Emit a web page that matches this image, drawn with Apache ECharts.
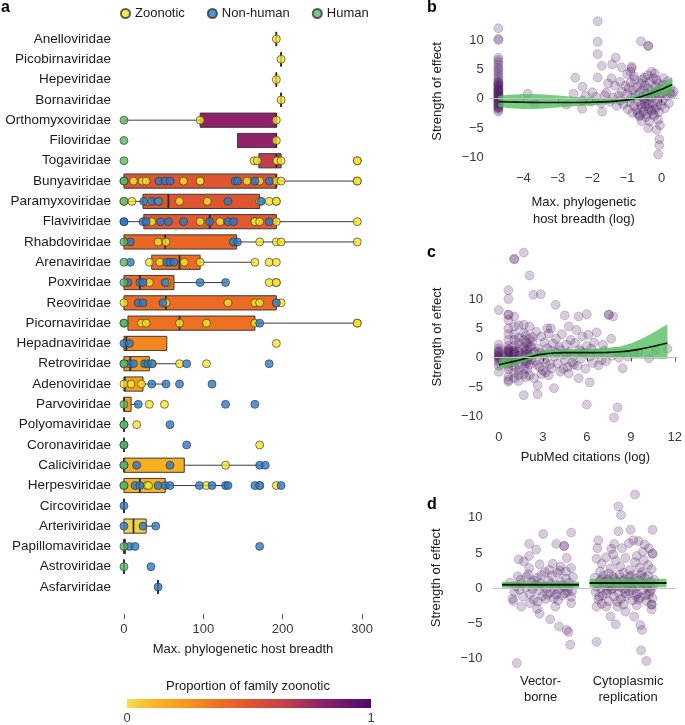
<!DOCTYPE html>
<html>
<head>
<meta charset="utf-8">
<script src="https://cdn.jsdelivr.net/npm/echarts@6/dist/echarts.min.js"></script>
<style>html,body{margin:0;background:#fff}#main{width:685px;height:725px}</style>
</head>
<body>
<div id="main"></div>
<script>
var FONT = 'Liberation Sans, Arial, sans-serif';

// ---- panel a : families, box stats [lo, q1, median, q3, hi], zoonotic share
var families = ['Anelloviridae','Picobirnaviridae','Hepeviridae','Bornaviridae','Orthomyxoviridae','Filoviridae',
  'Togaviridae','Bunyaviridae','Paramyxoviridae','Flaviviridae','Rhabdoviridae','Arenaviridae','Poxviridae',
  'Reoviridae','Picornaviridae','Hepadnaviridae','Retroviridae','Adenoviridae','Parvoviridae','Polyomaviridae',
  'Coronaviridae','Caliciviridae','Herpesviridae','Circoviridae','Arteriviridae','Papillomaviridae',
  'Astroviridae','Asfarviridae'];
var boxStats = [
  [192,192,192,192,192],[198,198,198,198,198],[192,192,192,192,192],[198,198,198,198,198],
  [0,96,192,192,192],[143,143,192,192,192],[170,170,192,198,198],[0,0,192,192,294],
  [0,24,56,171,171],[0,25,108,192,294],[0,0,52,142,294],[35,35,70,96,165],
  [0,0,20,63,128],[0,0,53,192,192],[0,5,70,165,294],[0,0,3,54,54],
  [0,0,8,32,70],[0,0,1,24,53],[0,0,0,9,18],[0,0,0,0,0],
  [0,0,0,0,0],[0,0,0,76,171],[0,0,20,52,131],[0,0,0,0,0],
  [0,0,12,28,40],[0,0,0,2,2],[0,0,0,0,0],[43,43,43,43,43]
];
var zoonoticShare = [1,1,1,1,0.8,0.8,0.65,0.5,0.5,0.48,0.42,0.4,0.4,0.4,0.38,0.3,0.22,0.2,0.2,0.15,
  0.15,0.14,0.12,0,0.03,0,0,0];

// host breadth of each virus, per family
var zoonoticPts = [
  ['Anelloviridae',[192]],['Picobirnaviridae',[198]],['Hepeviridae',[192]],['Bornaviridae',[198]],
  ['Orthomyxoviridae',[96,192]],['Filoviridae',[192]],['Togaviridae',[164,168,192,193,198,294,294]],
  ['Bunyaviridae',[12,23,28,75,96,96,155,171,192,198,294,294]],
  ['Paramyxoviridae',[0,10,30,44,70,105,171,183,192,192]],
  ['Flaviviridae',[35,96,121,165,165,171,192,294]],
  ['Rhabdoviridae',[43,53,138,171,192,198,294]],
  ['Arenaviridae',[32,45,76,96,165,183,192]],
  ['Poxviridae',[32,54,183,192,192]],
  ['Reoviridae',[0,53,131,165,171,192,198]],
  ['Picornaviridae',[22,28,70,104,165,294,294]],
  ['Hepadnaviridae',[192]],['Retroviridae',[36,70,104]],['Adenoviridae',[0,9,22]],
  ['Parvoviridae',[32,51]],['Polyomaviridae',[16]],['Coronaviridae',[171]],['Caliciviridae',[128]],
  ['Herpesviridae',[29,31,104,171,192]]
];
var nonHumanPts = [
  ['Bunyaviridae',[44,52,58,140,143,165,183]],
  ['Paramyxoviridae',[25,35,43,131,173]],
  ['Flaviviridae',[0,0,24,28,46,56,75,108,131,138,183]],
  ['Rhabdoviridae',[8,138,143]],['Arenaviridae',[8,54,58,63]],
  ['Poxviridae',[5,20,24,52,96,128]],['Reoviridae',[18,24,49,192]],['Picornaviridae',[171]],
  ['Hepadnaviridae',[0,7]],['Retroviridae',[7,12,26,30,35,79,183]],['Adenoviridae',[35,53,70,111]],
  ['Parvoviridae',[18,128,165]],['Polyomaviridae',[58]],['Coronaviridae',[0,79]],
  ['Caliciviridae',[0,16,58,171,178]],
  ['Herpesviridae',[14,20,43,52,58,95,111,128,131,165,171,198]],
  ['Circoviridae',[0]],['Arteriviridae',[0,24,40]],['Papillomaviridae',[7,14,171]],
  ['Astroviridae',[34]],['Asfarviridae',[43]]
];
var humanPts = [
  ['Orthomyxoviridae',[0]],['Filoviridae',[0]],['Togaviridae',[0]],['Bunyaviridae',[0,0]],
  ['Paramyxoviridae',[0]],['Rhabdoviridae',[0]],['Arenaviridae',[0]],['Poxviridae',[0]],
  ['Picornaviridae',[0,0]],['Retroviridae',[0,0]],['Parvoviridae',[0]],['Polyomaviridae',[0,0]],
  ['Coronaviridae',[0]],['Caliciviridae',[0]],['Herpesviridae',[0,0]],['Papillomaviridae',[0]],
  ['Astroviridae',[0]]
];
var ticksA = [0, 100, 200, 300];

// ---- panel b : strength of effect vs max. phylogenetic host breadth (log)
var breadthPts = [
  [-4.72,12],[-4.72,10.2],[-4.72,10],[-4.72,7],[-4.72,6.6],[-4.72,6.2],[-4.72,5.8],[-4.72,5.3],[-4.72,5],
  [-4.72,4.6],[-4.72,4.2],[-4.72,3.8],[-4.72,3.4],[-4.72,3],[-4.72,2.8],[-4.72,2.5],[-4.72,2.2],[-4.72,2],
  [-4.72,1.8],[-4.72,1.6],[-4.72,1.4],[-4.72,1.2],[-4.72,1],[-4.72,0.8],[-4.72,0.6],[-4.72,0.4],[-4.72,0.2],
  [-4.72,0],[-4.72,-0.2],[-4.72,-0.4],[-4.72,-0.6],[-4.72,-0.8],[-4.72,-1],[-4.72,-1.2],[-4.72,-1.4],
  [-4.72,-1.6],[-4.72,-1.9],[-4.72,-2.2],[-4.72,2.6],[-4.72,1.5],[-4.72,0.5],[-4.72,-0.5],[-4.72,-1.5],
  [-4.72,2.3],[-4.72,1.1],[-4.72,0.1],
  [-3.87,0.85],[-3.66,-0.8],[-2.5,3.6],[-2.55,0.85],[-2.29,2.05],[-2.75,-1.0],[-2.3,-0.3],[-2.3,-1.7],
  [-1.85,13.2],[-1.85,9.7],[-1.85,7.6],[-1.73,5.6],[-1.85,3.6],[-2.0,1.1],[-2.05,-0.5],[-1.72,-2.2],
  [-1.43,5.85],[-1.33,7.0],[-1.45,3.5],[-1.16,5.35],[-1.2,2.9],[-0.87,5.45],[-0.87,5.2],[-0.9,4.6],
  [-0.6,9.8],[-0.39,9.0],[-0.39,9.0],[-0.58,-3.8],[-0.39,-5.0],[-0.15,-5.3],[-0.1,-3.6],[-0.07,-6.9],
  [-0.07,-7.9],[-0.1,-9.5],[-0.35,-3.9],[0.24,0.85],[-0.29,4.6],[-0.15,3.2],[-0.4,4.0],[-1.6,1.0],
  [-1.5,-0.5],[-1.4,0.2],[-1.35,2.2],[-1.3,-1.2],[-1.55,2.6],[-1.9,0.3],[-1.75,-0.8],[-1.65,0.6],
  [-2.2,0.5],[-1.0,4.2],[-0.8,3.8],[-0.5,3.6],[-0.2,4.3],[0.05,3.5],[-0.05,-4.5],
  [-1.25,0.5],[-1.2,-0.3],[-1.15,1.2],[-1.1,-1.0],[-1.05,2.2],[-1.0,0.8],[-0.98,-1.8],[-0.95,1.8],
  [-0.92,-0.6],[-0.9,2.8],[-0.88,0.2],[-0.85,-2.4],[-0.82,1.5],[-0.8,-1.2],[-0.78,3.2],[-0.75,0.6],
  [-0.72,-1.9],[-0.7,2.0],[-0.68,-0.4],[-0.65,1.0],[-0.63,-2.8],[-0.6,2.6],[-0.58,-1.5],[-0.56,0.3],
  [-0.54,1.6],[-0.52,-2.2],[-0.5,-0.8],[-0.48,2.3],[-0.46,-1.3],[-0.44,0.9],[-0.42,-2.6],[-0.4,1.8],
  [-0.38,-0.2],[-0.36,-1.7],[-0.34,2.9],[-0.32,0.4],[-0.3,-2.0],[-0.28,1.3],[-0.26,-1.0],[-0.24,3.5],
  [-0.22,-2.9],[-0.2,0.7],[-0.18,2.1],[-0.16,-1.4],[-0.14,1.1],[-0.12,-0.5],[-0.1,2.6],[-0.08,-2.3],
  [-0.06,0.2],[-0.04,1.7],[-0.02,-1.1],[0.0,0.9],[0.03,-0.3],[0.06,2.4],[0.09,-1.6],[0.12,1.3],
  [0.15,0.5],[0.18,3.0],[0.21,-0.8],[0.25,1.8],[0.3,0.8],[0.35,1.2],[-0.6,-1.0],[-0.5,0.0],
  [-0.7,-2.5],[-0.4,-0.9],[-0.3,0.1],[-0.2,-1.8],[-0.55,3.3],[-0.65,-3.0],[-0.45,-3.1],[-0.25,-2.6]
];
var fitBx  = [-4.72,-4.4,-4,-3.5,-3,-2.5,-2,-1.5,-1.25,-1,-0.8,-0.6,-0.45,-0.3,-0.15,0,0.15,0.3];
var fitBy  = [-0.5,-0.55,-0.6,-0.65,-0.65,-0.65,-0.6,-0.5,-0.38,-0.2,0.02,0.35,0.62,0.95,1.27,1.6,2.0,2.4];
var fitBlo = [-1.35,-1.6,-1.75,-1.7,-1.5,-1.3,-1.15,-0.85,-0.72,-0.6,-0.35,-0.1,0.1,0.3,0.45,0.6,0.75,0.9];
var fitBhi = [0.45,0.7,0.8,0.75,0.55,0.3,0.15,0.1,0.12,0.2,0.5,0.9,1.25,1.6,2.05,2.5,3.05,3.6];
var ticksB = [-4, -3, -2, -1, 0];

// ---- panel c : strength of effect vs PubMed citations (log)
var citationPts = [
  [0,2.2],[0,1.6],[0,1.2],[0,0.9],[0,0.6],[0,0.3],[0,0.1],[0,-0.2],[0,-0.5],[0,-0.9],[0,-1.4],[0,-2.4],
  [0,8.1],[0,1.0],[0,0.4],[0,0.0],
  [0.65,11.5],[0.65,10.0],[0.65,7.3],[0.65,7.3],[0.65,6.4],[0.65,5.0],[0.65,4.0],[0.65,3.0],[0.65,2.0],
  [0.65,1.5],[0.65,1.2],[0.65,1.0],[0.65,0.8],[0.65,0.5],[0.65,0.3],[0.65,0],[0.65,-0.3],[0.65,-0.6],
  [0.65,-1.0],[0.65,-1.5],[0.65,-2.0],[0.65,-3.2],[0.65,-4.1],[0.65,-3.8],[0.65,0.9],[0.65,1.3],
  [1.05,16.8],[1.05,16.8],[1.05,7.0],[1.05,5.3],[1.05,4.0],[1.05,3.0],[1.05,2.0],[1.05,1.2],[1.05,1.0],
  [1.05,0.6],[1.05,0.2],[1.05,-0.3],[1.05,-0.8],[1.05,-1.5],[1.05,-2.6],[1.05,-3.5],[1.05,0.9],
  [1.35,5.5],[1.35,3.4],[1.35,2.5],[1.35,1.6],[1.35,1.0],[1.35,0.4],[1.35,-0.2],[1.35,-1.2],[1.35,-2.2],
  [1.35,-3.0],[1.35,-4.0],
  [1.7,17.9],[1.7,5.6],[1.7,4.2],[1.7,3.0],[1.7,1.8],[1.7,0.8],[1.7,0.2],[1.7,-0.6],[1.7,-1.8],
  [1.7,-2.8],[1.7,-6.4],
  [1.85,3.8],[1.85,2.6],[1.85,1.2],[1.85,0.5],[1.85,-0.4],[1.85,-1.0],[1.85,-3.3],
  [1.95,2.3],[1.95,1.4],[1.95,0.6],[1.95,-0.5],[1.95,-2.0],
  [2.1,14.0],[2.1,5.3],[2.1,3.2],[2.1,1.8],[2.1,0.2],[2.1,-1.2],[2.1,-3.0],
  [2.35,10.7],[2.3,2.8],[2.4,0.9],[2.48,-0.6],[2.56,4.4],[2.64,-6.25],[2.64,-4.7],[2.7,1.5],[2.77,-1.6],
  [2.86,10.8],[2.9,3.6],[3.0,0.4],[3.0,-2.2],[3.1,2.6],[3.2,-0.9],[3.3,5.0],[3.4,4.1],[3.4,-3.0],
  [3.5,1.2],[3.55,5.0],[3.6,-1.8],[3.7,2.4],[3.76,-5.2],[3.8,0.2],[3.87,9.0],[3.9,3.2],[4.0,-1.0],
  [4.1,1.8],[4.2,-2.4],[4.3,4.0],[4.4,0.5],[4.5,7.2],[4.5,-0.4],[4.6,2.2],[4.7,-1.6],[4.77,5.3],
  [4.77,-2.7],[4.85,1.0],[4.9,3.0],[5.0,-0.8],[5.1,0.3],[5.2,2.5],[5.3,4.7],[5.35,-1.4],[5.44,7.0],
  [5.44,-3.5],[5.5,1.4],[5.6,-0.2],[5.7,3.6],[5.8,0.8],[5.9,-1.9],[6.0,7.4],[6.0,2.0],[6.0,-8.0],
  [6.1,3.9],[6.2,-4.2],[6.2,0.2],[6.3,1.5],[6.4,-0.9],[6.5,2.6],[6.67,4.3],[6.7,0.6],[6.8,-1.3],
  [7.0,-0.4],[7.1,2.2],[7.2,1.2],[7.3,-0.6],[7.5,7.3],[7.5,7.3],[7.67,3.2],[7.7,0.3],[7.8,7.0],
  [7.85,-10.2],[8.0,1.0],[8.1,-8.5],[8.2,0.0],[8.45,-1.8],[8.5,0.8],[8.8,0.2],[9.2,0.7],[9.5,0.9],
  [10.25,-0.1],[10.7,1.3],[11.5,1.5],
  [2.2,-0.4],[2.5,1.0],[2.6,-1.2],[2.8,0.8],[3.1,-0.3],[3.3,1.6],[3.5,-1.1],[3.9,0.9],[4.2,1.3],
  [4.4,-1.9],[4.6,0.7],[5.1,-1.2],[5.6,1.1],[2.9,-2.8],[3.2,-2.5],[2.4,-3.5],[2.3,3.5],[2.2,1.9]
];
var fitCx  = [0,0.75,1.5,2.25,3,3.75,4.5,5.25,6,6.75,7.5,8.25,9,9.75,10.5,11,11.5];
var fitCy  = [-1.2,-0.8,-0.35,0.2,0.6,0.8,0.85,0.85,0.85,0.85,0.9,1.0,1.2,1.5,1.9,2.2,2.5];
var fitClo = [-2.1,-1.5,-0.9,-0.3,0.05,0.2,0.2,0.15,0.05,0.0,0.0,0.0,-0.1,-0.15,-0.15,-0.18,-0.2];
var fitChi = [-0.2,0.0,0.3,0.8,1.2,1.35,1.4,1.45,1.5,1.6,1.7,1.9,2.4,3.2,4.2,4.95,5.7];
var ticksC = [0, 3, 6, 9, 12];

// ---- panel d : strength of effect by trait
var traitNames = ['Vector-\nborne', 'Cytoplasmic\nreplication'];
var traitPos = [0.5, 1.5];
var groupMean = [0.5, 0.75];
var groupCI = [0.42, 0.6];
var vectorPts = [
  [0.53,7.7],[0.85,7.9],[0.37,6.3],[0.68,6.3],[0.77,6.0],[0.77,6.0],[0.45,5.5],[0.37,4.6],[0.25,4.1],
  [0.31,3.8],[0.80,4.3],[0.49,3.4],[0.64,3.5],[0.73,3.1],[0.85,2.9],[0.37,2.9],[0.24,1.7],[0.51,1.9],
  [0.15,0.8],[0.2,-0.5],[0.22,0.3],[0.27,1.2],[0.3,-1.2],[0.33,0.1],[0.36,2.0],[0.38,-0.8],[0.4,0.9],
  [0.42,-1.6],[0.44,0.4],[0.46,1.5],[0.48,-0.3],[0.5,0.7],[0.52,-1.1],[0.55,2.3],[0.57,0.0],[0.59,1.1],
  [0.61,-0.6],[0.63,1.8],[0.65,-1.4],[0.67,0.5],[0.69,2.2],[0.71,-0.2],[0.73,1.0],[0.75,-1.0],[0.77,0.2],
  [0.79,1.4],[0.81,-0.5],[0.83,0.8],[0.85,-1.2],[0.87,1.6],[0.18,-1.5],[0.26,-0.2],[0.34,1.6],[0.41,-0.1],
  [0.47,-1.9],[0.53,0.3],[0.58,-0.9],[0.62,0.6],[0.66,-0.1],[0.7,-1.7],[0.74,0.4],[0.78,-0.7],[0.82,0.1],
  [0.86,-0.4],[0.28,0.6],[0.43,1.1],[0.6,2.6],[0.72,2.5],[0.79,2.4],[0.56,-1.5],[0.68,-0.9],
  [0.46,-2.9],[0.49,-3.6],[0.61,-4.4],[0.71,-5.4],[0.80,-5.9],[0.82,-6.2],[0.84,-8.0],[0.23,-10.6],
  [0.19,-1.8],[0.28,-2.6],[0.38,-2.1],[0.67,-2.6],[0.85,-2.1]
];
var cytoPts = [
  [1.58,13.3],[1.39,11.6],[1.42,10.4],[1.39,8.1],[1.53,8.3],[1.78,8.3],[1.16,6.8],[1.34,6.3],[1.51,6.4],
  [1.56,6.8],[1.62,6.7],[1.69,6.2],[1.74,5.7],[1.67,5.2],[1.78,4.9],[1.78,4.9],[1.15,5.7],[1.31,5.6],
  [1.43,5.7],[1.14,4.2],[1.2,3.5],[1.25,4.4],[1.3,2.8],[1.36,3.9],[1.41,3.1],[1.47,4.3],[1.52,2.6],
  [1.58,3.7],[1.63,2.9],[1.68,4.0],[1.73,3.3],[1.77,2.7],[1.18,2.4],[1.28,2.1],[1.45,2.2],[1.55,1.9],
  [1.66,2.3],[1.33,4.8],[1.6,4.6],
  [1.12,1.5],[1.13,-0.5],[1.15,0.6],[1.16,-1.6],[1.18,1.1],[1.19,0.0],[1.21,-1.0],[1.22,1.8],[1.24,0.4],
  [1.25,-0.7],[1.27,1.3],[1.28,-1.8],[1.3,0.8],[1.31,-0.2],[1.33,1.6],[1.34,-1.2],[1.36,0.3],[1.37,1.0],
  [1.39,-0.6],[1.4,1.9],[1.42,-1.5],[1.43,0.5],[1.45,-0.1],[1.46,1.3],[1.48,-1.1],[1.49,0.9],[1.51,-0.4],
  [1.52,1.7],[1.54,0.1],[1.55,-1.7],[1.57,0.7],[1.58,1.4],[1.6,-0.8],[1.61,0.3],[1.63,1.1],[1.64,-1.3],
  [1.66,0.6],[1.67,-0.2],[1.69,1.5],[1.7,-1.0],[1.72,0.2],[1.73,1.8],[1.75,-0.5],[1.76,0.9],[1.78,-1.4],
  [1.79,0.4],[1.14,0.2],[1.2,1.3],[1.26,-0.3],[1.32,0.0],[1.38,-1.9],[1.44,1.0],[1.5,0.5],[1.56,-0.2],
  [1.62,-1.6],[1.68,0.8],[1.74,-0.9],[1.8,1.2],[1.17,-1.2],[1.23,0.9],[1.29,0.3],[1.35,1.4],[1.41,0.2],
  [1.47,-0.7],[1.53,0.8],[1.59,-1.1],[1.65,1.9],[1.71,0.5],[1.77,-0.1],
  [1.14,-2.6],[1.25,-2.6],[1.38,-2.6],[1.30,-4.0],[1.36,-5.1],[1.47,-3.3],[1.57,-4.0],[1.64,-5.2],
  [1.66,-5.9],[1.77,-3.0],[1.77,-2.3],[1.77,-2.3],[1.14,-7.6],[1.65,-8.8],[1.71,-10.3],[1.60,-2.4],
  [1.71,-1.8],[1.2,-2.2],[1.45,-2.3]
];
var ticksY = [-10, -5, 0, 5, 10];

// ---- colours
var paletteStops = [[0,'#f4dd4f'],[0.12,'#f7b325'],[0.25,'#f6961a'],[0.4,'#ec6a22'],[0.5,'#df5530'],
  [0.65,'#c33e4c'],[0.8,'#8e2168'],[1,'#4a0b6b']];

function hexRgb(h) {
  return [parseInt(h.substr(1,2),16), parseInt(h.substr(3,2),16), parseInt(h.substr(5,2),16)];
}
function shareColour(t) {
  for (var i = 1; i < paletteStops.length; i++) {
    if (t <= paletteStops[i][0]) {
      var a = paletteStops[i-1], b = paletteStops[i];
      var f = (t - a[0]) / (b[0] - a[0]);
      var ca = hexRgb(a[1]), cb = hexRgb(b[1]);
      return 'rgb(' + ca.map(function (v, k) { return Math.round(v + (cb[k] - v) * f); }).join(',') + ')';
    }
  }
  return paletteStops[paletteStops.length-1][1];
}
var boxColours = zoonoticShare.map(shareColour);

function flatten(rows) {
  var out = [];
  rows.forEach(function (r) { r[1].forEach(function (v) { out.push([v, r[0]]); }); });
  return out;
}
function minus(v) { return String(v).replace('-', '\u2212'); }

var PURPLE = 'rgba(78,28,98,0.28)';
var PURPLE_EDGE = 'rgba(78,28,98,0.38)';
var GREEN = 'rgba(80,190,92,0.78)';
var LABEL = {fontFamily: FONT, fontSize: 13, color: '#3a3a3a'};
var NAME = {fontFamily: FONT, fontSize: 13, color: '#1a1a1a'};

function renderBox(params, api) {
  var row = api.value(0);
  var p = [1,2,3,4,5].map(function (i) { return api.coord([api.value(i), row]); });
  var h = api.size([0, 1])[1] * 0.7;
  var y = p[0][1];
  var stroke = '#3b3b3b';
  return {type: 'group', children: [
    {type: 'line', shape: {x1: p[0][0], y1: y, x2: p[1][0], y2: y}, style: {stroke: stroke, lineWidth: 1}},
    {type: 'line', shape: {x1: p[3][0], y1: y, x2: p[4][0], y2: y}, style: {stroke: stroke, lineWidth: 1}},
    {type: 'rect', shape: {x: p[1][0], y: y - h/2, width: p[3][0] - p[1][0], height: h},
      style: {fill: boxColours[params.dataIndex], stroke: stroke, lineWidth: 1}},
    {type: 'line', shape: {x1: p[2][0], y1: y - h/2, x2: p[2][0], y2: y + h/2},
      style: {stroke: '#2a2a2a', lineWidth: 1.8}}
  ]};
}

function renderMean(params, api) {
  var pos = api.value(0), m = api.value(1), ci = api.value(2), hw = 0.44;
  var a = api.coord([pos - hw, m + ci]), b = api.coord([pos + hw, m - ci]);
  var l = api.coord([pos - hw, m]), r = api.coord([pos + hw, m]);
  return {type: 'group', children: [
    {type: 'rect', shape: {x: a[0], y: a[1], width: b[0] - a[0], height: b[1] - a[1]}, style: {fill: GREEN}},
    {type: 'line', shape: {x1: l[0], y1: l[1], x2: r[0], y2: r[1]}, style: {stroke: '#111', lineWidth: 2}}
  ]};
}

// confidence band drawn as one polygon through the upper and then lower bounds
function bandSeries(xs, lo, hi, xi) {
  return {type: 'custom', xAxisIndex: xi, yAxisIndex: xi, silent: true, z: 3, encode: {x: 0, y: [1, 2]},
    data: xs.map(function (x, i) { return [x, lo[i], hi[i]]; }),
    renderItem: function (params, api) {
      if (params.dataIndex !== 0) return null;
      var up = xs.map(function (x, i) { return api.coord([x, hi[i]]); });
      var dn = xs.map(function (x, i) { return api.coord([x, lo[i]]); }).reverse();
      return {type: 'polygon', shape: {points: up.concat(dn)}, style: {fill: GREEN}};
    }};
}
function fitSeries(xs, ys, xi) {
  return {type: 'line', xAxisIndex: xi, yAxisIndex: xi, symbol: 'none', smooth: true, silent: true, z: 4,
    lineStyle: {color: '#111', width: 1.6}, data: xs.map(function (x, i) { return [x, ys[i]]; })};
}
function zeroLine() {
  return {silent: true, symbol: ['none','none'], label: {show: false}, animation: false,
    lineStyle: {color: '#c4c4c4', width: 1, type: 'solid'}, data: [{yAxis: 0}]};
}
function scatter(data, xi, withZero) {
  var s = {type: 'scatter', xAxisIndex: xi, yAxisIndex: xi, data: data, symbolSize: 9, clip: false,
    itemStyle: {color: PURPLE, borderColor: PURPLE_EDGE, borderWidth: 0.7}, z: 2};
  if (withZero) s.markLine = zeroLine();
  return s;
}
function valueY(idx, min, max, gap) {
  return {type: 'value', gridIndex: idx, min: min, max: max, splitLine: {show: false},
    axisLine: {show: false}, axisTick: {show: false},
    axisLabel: Object.assign({customValues: ticksY, formatter: minus, margin: idx === 1 ? 5 : 10}, LABEL),
    name: 'Strength of effect', nameLocation: 'middle', nameGap: gap, nameTextStyle: NAME};
}

var myChart = echarts.init(document.getElementById('main'));
var option = {
  animation: false,
  textStyle: {fontFamily: FONT},
  legend: {data: ['Zoonotic','Non-human','Human'], left: 115, top: 2, icon: 'circle',
    itemWidth: 9, itemHeight: 9, itemGap: 22, textStyle: {fontFamily: FONT, fontSize: 13, color: '#1a1a1a'}},
  grid: [
    {left: 120, top: 28.85, width: 246, height: 568.3},
    {left: 488.7, top: 19.5, width: 190.3, height: 143.8},
    {left: 493, top: 252, width: 187.7, height: 170.2},
    {left: 492.4, top: 489.6, width: 183.75, height: 176.3}
  ],
  xAxis: [
    {type: 'value', gridIndex: 0, min: -5, max: 305, offset: 17, splitLine: {show: false}, axisLine: {show: false},
      axisTick: {show: true, length: 5, lineStyle: {color: '#555'}, customValues: ticksA},
      axisLabel: Object.assign({customValues: ticksA, margin: 9}, LABEL),
      name: 'Max. phylogenetic host breadth', nameLocation: 'middle', nameGap: 29, nameTextStyle: NAME},
    {type: 'value', gridIndex: 1, min: -5, max: 0.5, splitLine: {show: false}, axisLine: {show: false},
      axisTick: {show: true, length: 4, lineStyle: {color: '#555'}, customValues: ticksB},
      axisLabel: Object.assign({customValues: ticksB, formatter: minus, margin: 9}, LABEL),
      name: 'Max. phylogenetic\nhost breadth (log)', nameLocation: 'middle', nameGap: 31,
      nameTextStyle: Object.assign({lineHeight: 17}, NAME)},
    {type: 'value', gridIndex: 2, min: -0.4, max: 12.2, splitLine: {show: false}, axisLine: {show: false},
      axisTick: {show: true, length: 4, lineStyle: {color: '#555'}, customValues: ticksC},
      axisLabel: Object.assign({customValues: ticksC, margin: 9}, LABEL),
      name: 'PubMed citations (log)', nameLocation: 'middle', nameGap: 29, nameTextStyle: NAME},
    {type: 'value', gridIndex: 3, min: -0.05, max: 2.05, splitLine: {show: false}, axisLine: {show: false},
      axisTick: {show: false},
      axisLabel: {customValues: traitPos, margin: 8, fontFamily: FONT, fontSize: 13, color: '#1a1a1a', lineHeight: 16,
        formatter: function (v) { return traitNames[traitPos.indexOf(v)] || ''; }}}
  ],
  yAxis: [
    {type: 'category', gridIndex: 0, data: families, inverse: true, axisLine: {show: false}, axisTick: {show: false},
      axisLabel: {margin: 9, fontFamily: FONT, fontSize: 13.5, color: '#1a1a1a'}},
    valueY(1, -11, 13.5, 45),
    valueY(2, -11, 18, 49),
    valueY(3, -11, 14, 49)
  ],
  graphic: [
    {type: 'text', left: 1, top: 0, style: {text: 'a', font: 'bold 16px ' + FONT, fill: '#000'}},
    {type: 'text', left: 427, top: 0, style: {text: 'b', font: 'bold 16px ' + FONT, fill: '#000'}},
    {type: 'text', left: 427, top: 245, style: {text: 'c', font: 'bold 16px ' + FONT, fill: '#000'}},
    {type: 'text', left: 427, top: 497, style: {text: 'd', font: 'bold 16px ' + FONT, fill: '#000'}},
    {type: 'text', x: 248, y: 686, style: {text: 'Proportion of family zoonotic', font: '13px ' + FONT,
      fill: '#1a1a1a', textAlign: 'center', textVerticalAlign: 'middle'}},
    {type: 'rect', shape: {x: 127, y: 699, width: 244, height: 9},
      style: {fill: {type: 'linear', x: 0, y: 0, x2: 1, y2: 0,
        colorStops: paletteStops.map(function (s) { return {offset: s[0], color: s[1]}; })}}},
    {type: 'text', x: 127, y: 718, style: {text: '0', font: '13px ' + FONT, fill: '#3a3a3a',
      textAlign: 'center', textVerticalAlign: 'middle'}},
    {type: 'text', x: 371, y: 718, style: {text: '1', font: '13px ' + FONT, fill: '#3a3a3a',
      textAlign: 'center', textVerticalAlign: 'middle'}}
  ],
  series: [
    {type: 'custom', xAxisIndex: 0, yAxisIndex: 0, renderItem: renderBox, silent: true, z: 1,
      encode: {x: [1,2,3,4,5], y: 0},
      data: boxStats.map(function (s, i) { return [i].concat(s); })},
    {name: 'Zoonotic', type: 'scatter', xAxisIndex: 0, yAxisIndex: 0, data: flatten(zoonoticPts), symbolSize: 8,
      clip: false, itemStyle: {color: '#f6e22c', borderColor: '#333', borderWidth: 0.8}, z: 3},
    {name: 'Non-human', type: 'scatter', xAxisIndex: 0, yAxisIndex: 0, data: flatten(nonHumanPts), symbolSize: 8,
      clip: false, itemStyle: {color: '#2a78c8', borderColor: '#333', borderWidth: 0.8}, z: 3},
    {name: 'Human', type: 'scatter', xAxisIndex: 0, yAxisIndex: 0, data: flatten(humanPts), symbolSize: 8,
      clip: false, itemStyle: {color: '#58b862', borderColor: '#333', borderWidth: 0.8}, z: 3},
    scatter(breadthPts, 1, true),
    bandSeries(fitBx, fitBlo, fitBhi, 1),
    fitSeries(fitBx, fitBy, 1),
    scatter(citationPts, 2, true),
    bandSeries(fitCx, fitClo, fitChi, 2),
    fitSeries(fitCx, fitCy, 2),
    scatter(vectorPts, 3, true),
    scatter(cytoPts, 3, false),
    {type: 'custom', xAxisIndex: 3, yAxisIndex: 3, renderItem: renderMean, silent: true, z: 4,
      encode: {x: 0, y: 1},
      data: traitPos.map(function (p, i) { return [p, groupMean[i], groupCI[i]]; })}
  ]
};
myChart.setOption(option);
</script>
</body>
</html>
